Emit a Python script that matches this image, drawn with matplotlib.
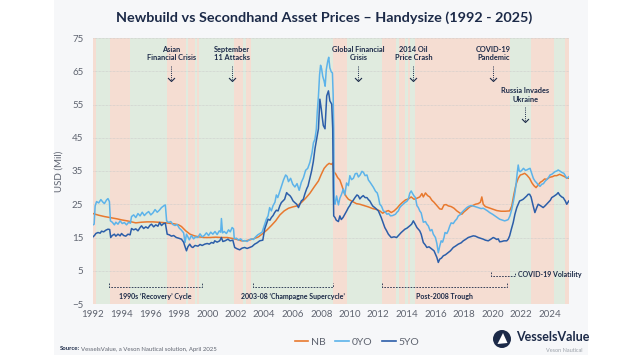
import matplotlib.pyplot as plt
from matplotlib.patches import Rectangle, Ellipse, Polygon
from matplotlib.lines import Line2D

plt.rcParams['font.family'] = ['Lato', 'DejaVu Sans']

NAVY = '#1c2a48'
GRAY = '#5f6470'

# ---- data ----
nb_year = [1992.0, 1992.4, 1992.8, 1993.2, 1993.7, 1994.0, 1994.4, 1994.8, 1995.0, 1995.4,
           1995.8, 1996.2, 1996.6, 1996.9, 1997.3, 1997.7, 1998.0, 1998.2, 1998.5, 1998.8,
           1999.1, 1999.4, 1999.8, 2000.2, 2000.6, 2001.0, 2001.4, 2001.8, 2002.1, 2002.4,
           2002.7, 2003.0, 2003.3, 2003.6, 2003.9, 2004.2, 2004.5, 2004.8, 2005.1, 2005.4,
           2005.7, 2006.0, 2006.3, 2006.6, 2006.9, 2007.2, 2007.5, 2007.8, 2008.0, 2008.2,
           2008.4, 2008.55, 2008.7, 2008.8, 2008.87, 2009.0, 2009.15, 2009.3, 2009.45, 2009.6,
           2009.75, 2009.9, 2010.2, 2010.45, 2010.7, 2011.0, 2011.3, 2011.6, 2011.9, 2012.1,
           2012.3, 2012.5, 2012.7, 2012.9, 2013.1, 2013.3, 2013.5, 2013.7, 2013.9, 2014.1,
           2014.3, 2014.5, 2014.7, 2014.9, 2015.05, 2015.15, 2015.3, 2015.45, 2015.6, 2015.75,
           2015.9, 2016.1, 2016.3, 2016.45, 2016.6, 2016.75, 2016.9, 2017.1, 2017.3, 2017.5,
           2017.7, 2017.85, 2018.0, 2018.2, 2018.4, 2018.6, 2018.8, 2019.0, 2019.15, 2019.25,
           2019.35, 2019.5, 2019.7, 2019.9, 2020.1, 2020.3, 2020.6, 2020.9, 2021.2, 2021.35,
           2021.5, 2021.65, 2021.8, 2021.95, 2022.1, 2022.25, 2022.4, 2022.6, 2022.75, 2022.9,
           2023.05, 2023.2, 2023.35, 2023.5, 2023.65, 2023.8, 2024.0, 2024.2, 2024.35, 2024.5,
           2024.7, 2024.9, 2025.05, 2025.2, 2025.35]
nb_val = [22.2, 21.7, 21.3, 21.0, 20.6, 20.3, 20.0, 19.6, 19.4, 19.6,
          19.7, 19.7, 19.6, 19.5, 19.3, 19.1, 18.8, 18.3, 17.0, 16.0,
          15.5, 15.2, 15.0, 15.0, 15.1, 15.0, 15.0, 14.7, 14.4, 14.0,
          14.0, 14.3, 14.7, 15.2, 16.2, 17.3, 18.6, 20.0, 21.8, 23.0,
          23.8, 24.2, 24.5, 25.5, 26.8, 28.3, 30.2, 32.0, 34.0, 35.8,
          36.8, 37.3, 37.0, 37.4, 34.8, 34.2, 33.0, 32.3, 30.5, 28.5,
          27.3, 26.5, 25.8, 25.2, 25.0, 24.6, 24.2, 23.7, 23.4, 23.0,
          22.3, 22.8, 23.1, 22.5, 23.0, 23.8, 24.8, 25.6, 26.3, 26.6,
          27.2, 26.5, 26.8, 27.2, 28.2, 27.2, 28.4, 27.6, 27.2, 26.2,
          25.6, 24.6, 23.6, 23.5, 24.8, 24.9, 24.5, 24.3, 23.8, 23.0,
          22.4, 22.0, 22.7, 23.4, 24.2, 24.6, 25.0, 25.2, 25.6, 27.2,
          25.0, 24.3, 24.0, 23.7, 23.4, 23.1, 22.9, 22.9, 23.0, 24.5,
          28.0, 31.0, 32.8, 33.8, 34.0, 34.3, 33.8, 32.8, 31.5, 30.6,
          30.0, 30.8, 31.6, 32.0, 32.6, 32.5, 33.1, 33.3, 33.6, 33.6,
          34.0, 33.6, 33.3, 32.9, 32.8]

yo0_year = [1992.0, 1992.08, 1992.15, 1992.25, 1992.4, 1992.55, 1992.7, 1992.8, 1992.95, 1993.05,
            1993.15, 1993.22, 1993.35, 1993.5, 1993.6, 1993.75, 1993.9, 1994.05, 1994.2, 1994.35,
            1994.5, 1994.62, 1994.7, 1994.85, 1995.0, 1995.15, 1995.3, 1995.45, 1995.6, 1995.75,
            1995.9, 1996.05, 1996.2, 1996.35, 1996.5, 1996.65, 1996.8, 1996.95, 1997.07, 1997.16,
            1997.3, 1997.45, 1997.6, 1997.75, 1997.9, 1998.05, 1998.2, 1998.35, 1998.45, 1998.55,
            1998.65, 1998.75, 1998.9, 1999.05, 1999.2, 1999.35, 1999.5, 1999.65, 1999.8, 1999.95,
            2000.1, 2000.25, 2000.4, 2000.55, 2000.7, 2000.85, 2000.95, 2001.0, 2001.08, 2001.2,
            2001.35, 2001.5, 2001.62, 2001.75, 2001.85, 2001.9, 2002.05, 2002.2, 2002.35, 2002.5,
            2002.65, 2002.8, 2002.95, 2003.1, 2003.25, 2003.4, 2003.55, 2003.7, 2003.85, 2004.0,
            2004.15, 2004.27, 2004.38, 2004.5, 2004.62, 2004.75, 2004.85, 2004.95, 2005.1, 2005.25,
            2005.35, 2005.5, 2005.6, 2005.7, 2005.85, 2006.0, 2006.15, 2006.3, 2006.45, 2006.6,
            2006.75, 2006.9, 2007.05, 2007.2, 2007.35, 2007.45, 2007.55, 2007.65, 2007.72, 2007.8,
            2007.88, 2007.95, 2008.02, 2008.1, 2008.2, 2008.27, 2008.35, 2008.45, 2008.52, 2008.6,
            2008.7, 2008.78, 2008.83, 2008.87, 2008.9, 2008.96, 2009.07, 2009.2, 2009.3, 2009.42,
            2009.54, 2009.65, 2009.77, 2009.9, 2010.0, 2010.12, 2010.25, 2010.38, 2010.5, 2010.6,
            2010.72, 2010.85, 2010.95, 2011.07, 2011.2, 2011.3, 2011.42, 2011.53, 2011.65, 2011.8,
            2011.92, 2012.0, 2012.1, 2012.22, 2012.35, 2012.48, 2012.6, 2012.72, 2012.85, 2013.0,
            2013.2, 2013.3, 2013.4, 2013.5, 2013.6, 2013.73, 2013.86, 2014.0, 2014.1, 2014.2,
            2014.3, 2014.4, 2014.5, 2014.6, 2014.7, 2014.8, 2014.9, 2015.0, 2015.15, 2015.3,
            2015.4, 2015.5, 2015.63, 2015.75, 2015.85, 2016.0, 2016.1, 2016.2, 2016.3, 2016.4,
            2016.5, 2016.6, 2016.67, 2016.8, 2016.9, 2017.0, 2017.1, 2017.25, 2017.37, 2017.5,
            2017.6, 2017.72, 2017.84, 2018.0, 2018.2, 2018.35, 2018.5, 2018.7, 2018.85, 2019.0,
            2019.2, 2019.35, 2019.47, 2019.65, 2019.8, 2020.0, 2020.17, 2020.35, 2020.5, 2020.7,
            2020.85, 2021.0, 2021.1, 2021.22, 2021.35, 2021.47, 2021.57, 2021.65, 2021.72, 2021.8,
            2021.87, 2021.94, 2022.05, 2022.17, 2022.3, 2022.4, 2022.52, 2022.63, 2022.75, 2022.86,
            2022.97, 2023.1, 2023.2, 2023.33, 2023.45, 2023.57, 2023.68, 2023.8, 2023.92, 2024.03,
            2024.15, 2024.27, 2024.38, 2024.5, 2024.6, 2024.72, 2024.85, 2025.0, 2025.1, 2025.2,
            2025.35]
yo0_val = [18.8, 19.0, 24.5, 25.8, 25.4, 26.4, 25.6, 25.2, 26.3, 26.7,
           25.8, 20.0, 19.6, 18.8, 19.6, 19.0, 20.0, 19.2, 19.5, 18.8,
           19.6, 19.3, 21.3, 21.8, 21.0, 22.2, 21.5, 22.6, 21.6, 22.3,
           22.8, 21.8, 22.4, 23.4, 22.6, 23.2, 24.0, 24.5, 24.8, 20.0,
           19.5, 19.8, 18.9, 18.6, 18.9, 17.8, 17.2, 16.4, 13.5, 16.0,
           15.2, 14.3, 15.6, 14.6, 15.2, 15.0, 16.1, 15.2, 15.6, 16.4,
           15.6, 16.6, 16.0, 16.8, 15.9, 17.0, 16.6, 20.7, 16.4, 16.8,
           16.2, 17.3, 16.7, 18.0, 17.6, 14.6, 14.8, 14.2, 14.6, 13.9,
           14.1, 13.8, 14.3, 14.6, 14.4, 15.2, 15.8, 16.2, 16.6, 18.6,
           20.5, 21.5, 24.0, 23.0, 24.6, 25.6, 27.8, 27.0, 29.0, 31.0,
           32.3, 33.8, 33.4, 31.8, 32.8, 31.0, 30.2, 31.2, 29.2, 31.6,
           33.0, 35.2, 35.8, 37.6, 40.5, 43.5, 44.5, 47.5, 53.0, 57.5,
           64.0, 66.8, 65.8, 63.5, 62.0, 60.5, 65.5, 68.0, 69.2, 66.0,
           64.8, 64.5, 58.0, 48.0, 26.0, 25.0, 27.5, 24.8, 26.8, 28.0,
           29.6, 27.8, 31.4, 30.6, 33.6, 32.4, 32.8, 34.2, 34.3, 33.2,
           33.8, 34.9, 34.6, 33.6, 33.8, 32.3, 31.6, 30.9, 30.1, 28.9,
           28.4, 27.2, 25.0, 24.4, 23.0, 22.7, 22.0, 22.2, 21.5, 21.6,
           22.0, 22.6, 23.0, 24.0, 24.5, 25.0, 25.5, 25.9, 26.5, 28.3,
           29.0, 28.2, 27.5, 27.0, 24.6, 24.0, 23.0, 22.4, 19.6, 19.8,
           19.0, 18.5, 17.0, 17.4, 16.0, 15.0, 13.2, 10.4, 12.4, 14.0,
           13.6, 15.0, 16.5, 16.2, 17.1, 18.4, 19.4, 19.2, 20.0, 20.6,
           21.5, 21.8, 22.5, 23.2, 24.0, 24.4, 24.6, 24.4, 24.2, 24.0,
           23.7, 23.8, 23.5, 23.0, 22.5, 22.0, 21.5, 21.0, 20.5, 20.2,
           20.0, 20.2, 20.4, 21.5, 23.5, 26.0, 28.5, 31.0, 34.0, 36.8,
           35.0, 34.8, 35.2, 35.8, 35.2, 35.3, 35.6, 35.8, 34.2, 32.8,
           32.0, 31.4, 30.8, 30.4, 31.0, 31.2, 31.9, 32.4, 33.0, 33.8,
           34.0, 34.4, 34.8, 35.0, 35.3, 35.0, 34.6, 34.3, 33.6, 32.8,
           33.3]

yo5_year = [1992.0, 1992.1, 1992.2, 1992.35, 1992.5, 1992.6, 1992.75, 1992.9, 1993.05, 1993.17,
            1993.24, 1993.35, 1993.5, 1993.6, 1993.75, 1993.9, 1994.0, 1994.15, 1994.3, 1994.45,
            1994.6, 1994.7, 1994.85, 1995.0, 1995.15, 1995.3, 1995.4, 1995.55, 1995.7, 1995.85,
            1996.0, 1996.1, 1996.25, 1996.4, 1996.55, 1996.67, 1996.8, 1996.95, 1997.07, 1997.2,
            1997.35, 1997.5, 1997.65, 1997.84, 1998.0, 1998.2, 1998.35, 1998.43, 1998.55, 1998.65,
            1998.78, 1998.9, 1999.0, 1999.15, 1999.36, 1999.5, 1999.65, 1999.83, 2000.0, 2000.15,
            2000.3, 2000.45, 2000.53, 2000.7, 2000.88, 2001.0, 2001.1, 2001.25, 2001.46, 2001.6,
            2001.8, 2001.93, 2002.1, 2002.28, 2002.45, 2002.63, 2002.8, 2002.98, 2003.15, 2003.33,
            2003.5, 2003.68, 2003.9, 2004.03, 2004.15, 2004.27, 2004.4, 2004.5, 2004.62, 2004.73,
            2004.85, 2004.97, 2005.1, 2005.2, 2005.32, 2005.43, 2005.57, 2005.67, 2005.8, 2005.9,
            2006.02, 2006.14, 2006.28, 2006.4, 2006.5, 2006.6, 2006.74, 2006.84, 2006.98, 2007.07,
            2007.2, 2007.32, 2007.44, 2007.56, 2007.68, 2007.8, 2007.9, 2008.0, 2008.07, 2008.14,
            2008.26, 2008.38, 2008.5, 2008.6, 2008.73, 2008.8, 2008.84, 2008.87, 2008.96, 2009.05,
            2009.2, 2009.3, 2009.4, 2009.52, 2009.65, 2009.78, 2009.9, 2010.0, 2010.1, 2010.24,
            2010.36, 2010.5, 2010.6, 2010.7, 2010.82, 2010.94, 2011.07, 2011.2, 2011.3, 2011.4,
            2011.5, 2011.6, 2011.8, 2012.0, 2012.1, 2012.2, 2012.32, 2012.45, 2012.58, 2012.7,
            2012.8, 2012.9, 2013.1, 2013.28, 2013.45, 2013.6, 2013.73, 2013.86, 2014.0, 2014.2,
            2014.33, 2014.45, 2014.58, 2014.7, 2014.8, 2014.9, 2015.0, 2015.15, 2015.28, 2015.4,
            2015.55, 2015.75, 2015.9, 2016.0, 2016.1, 2016.2, 2016.3, 2016.42, 2016.55, 2016.7,
            2016.9, 2017.05, 2017.25, 2017.4, 2017.6, 2017.8, 2017.95, 2018.1, 2018.3, 2018.5,
            2018.65, 2018.8, 2019.0, 2019.15, 2019.35, 2019.5, 2019.7, 2019.85, 2020.05, 2020.15,
            2020.3, 2020.4, 2020.5, 2020.65, 2020.8, 2021.0, 2021.1, 2021.2, 2021.32, 2021.45,
            2021.57, 2021.7, 2021.8, 2021.9, 2022.02, 2022.15, 2022.28, 2022.4, 2022.5, 2022.6,
            2022.7, 2022.85, 2022.97, 2023.1, 2023.2, 2023.35, 2023.55, 2023.7, 2023.9, 2024.05,
            2024.15, 2024.3, 2024.5, 2024.6, 2024.7, 2024.85, 2024.95, 2025.1, 2025.2, 2025.35]
yo5_val = [15.2, 15.6, 16.2, 16.5, 16.3, 16.9, 16.7, 17.2, 17.5, 17.4,
           15.0, 15.6, 16.0, 15.4, 16.0, 15.5, 16.2, 15.6, 15.4, 16.0,
           15.8, 17.7, 17.3, 17.6, 17.0, 18.0, 18.5, 17.7, 18.2, 17.8,
           18.7, 19.0, 18.2, 18.8, 18.4, 19.5, 18.6, 19.2, 19.3, 16.0,
           15.8, 15.4, 15.6, 15.0, 14.8, 14.5, 13.6, 12.5, 11.0, 12.2,
           13.0, 12.2, 12.0, 12.6, 12.4, 12.9, 12.6, 13.0, 13.2, 13.0,
           13.5, 13.3, 14.0, 13.6, 14.0, 15.0, 13.8, 14.0, 14.5, 14.0,
           14.2, 12.0, 11.6, 11.3, 11.8, 12.0, 11.7, 12.0, 12.3, 13.0,
           13.4, 14.0, 14.2, 17.5, 19.0, 20.5, 20.2, 21.0, 21.6, 22.5,
           23.2, 23.0, 24.6, 25.5, 26.0, 26.5, 28.5, 28.0, 27.6, 27.0,
           26.0, 25.5, 25.0, 24.0, 25.0, 26.0, 26.5, 28.0, 29.7, 30.5,
           32.8, 35.0, 37.8, 41.8, 44.7, 47.7, 56.6, 53.6, 51.0, 48.7,
           47.7, 57.6, 59.1, 56.1, 55.1, 47.7, 30.0, 21.5, 21.0, 20.2,
           19.8, 21.5, 20.4, 21.0, 22.0, 23.0, 24.0, 24.6, 25.5, 26.2,
           27.0, 27.8, 27.5, 26.6, 27.2, 27.6, 27.0, 27.0, 26.4, 26.0,
           25.2, 24.5, 23.8, 23.0, 22.0, 21.0, 19.6, 18.0, 17.0, 16.0,
           15.5, 15.0, 15.2, 15.0, 15.8, 16.5, 17.0, 17.5, 17.8, 18.5,
           19.0, 20.0, 19.0, 18.0, 17.5, 17.0, 16.0, 13.5, 12.8, 12.0,
           12.2, 11.5, 11.0, 10.0, 9.0, 7.5, 8.5, 8.8, 9.5, 9.8,
           10.5, 11.0, 12.0, 12.4, 13.0, 13.4, 14.0, 14.4, 15.0, 15.3,
           15.5, 15.4, 15.0, 14.8, 14.5, 14.2, 14.0, 14.4, 15.0, 14.8,
           14.4, 14.6, 13.7, 13.8, 14.0, 14.0, 14.5, 15.5, 17.5, 19.5,
           22.0, 24.0, 25.0, 26.0, 26.2, 26.5, 27.0, 27.5, 28.0, 28.0,
           27.2, 24.5, 22.5, 24.0, 25.0, 24.6, 24.0, 24.6, 25.5, 26.2,
           27.0, 27.4, 28.0, 28.5, 27.8, 27.2, 27.0, 26.0, 25.0, 26.0]

# market phase shading (start, end, phase)
band_start = [1992.0, 1992.2, 1993.17, 1994.62, 1997.18, 1998.5, 1998.65, 1999.12, 1999.3, 1999.45,
              2001.85, 2002.52, 2002.7, 2003.1, 2008.84, 2009.78, 2012.27, 2013.25, 2013.45, 2013.86,
              2014.05, 2014.2, 2014.57, 2021.25, 2022.7, 2024.28, 2025.1]
band_end = band_start[1:] + [2025.4]
band_phase = ['down', 'up', 'down', 'up', 'down', 'up', 'down', 'up', 'down', 'up',
              'down', 'up', 'down', 'up', 'down', 'up', 'down', 'up', 'down', 'up',
              'down', 'up', 'down', 'up', 'down', 'up', 'down']

events = ['Asian\nFinancial Crisis', 'September\n11 Attacks', 'Global Financial\nCrisis',
          '2014 Oil\nPrice Crash', 'COVID-19\nPandemic', 'Russia Invades\nUkraine']
event_year = [1997.5, 2001.75, 2010.6, 2014.45, 2020.05, 2022.3]
event_level = [70.3, 70.3, 70.3, 70.3, 70.3, 57.9]

periods = ["1990s \u2018Recovery\u2019 Cycle", "2003-08 \u2018Champagne Supercycle\u2019",
           'Post-2008 Trough']
period_start = [1993.14, 2003.19, 2012.23]
period_end = [1999.62, 2008.8, 2020.99]

series_colors = {'NB': '#e8792f', '0YO': '#5cb3ea', '5YO': '#2c5ea9'}
phase_colors = {'up': '#e0ebdf', 'down': '#f5ddd2'}

W, H = 643, 361
fig = plt.figure(figsize=(W / 100, H / 100), dpi=100)
fig.patch.set_facecolor('white')
# grey card behind everything
fig.patches.append(Rectangle((54 / W, 1 - 355 / H), (588 - 54) / W, 355 / H,
                             transform=fig.transFigure, facecolor='#f6f7f9',
                             edgecolor='none', zorder=-5))

ax = fig.add_axes([93 / W, 1 - 304 / H, (569 - 93) / W, (304 - 38) / H])
ax.set_facecolor('none')

for s, e, p in zip(band_start, band_end, band_phase):
    ax.axvspan(s, e, color=phase_colors[p], lw=0, zorder=0.1)

ax.plot(nb_year, nb_val, color=series_colors['NB'], lw=1.1, zorder=2, label='NB')
ax.plot(yo0_year, yo0_val, color=series_colors['0YO'], lw=1.1, zorder=2.1, label='0YO')
ax.plot(yo5_year, yo5_val, color=series_colors['5YO'], lw=1.1, zorder=2.2, label='5YO')

ax.set_xlim(1992.0, 2025.36)
ax.set_ylim(-5, 75)
ax.set_yticks(range(-5, 76, 10))
ax.set_xticks(range(1992, 2025, 2))
ax.tick_params(length=0, labelsize=7, colors=GRAY)
ax.tick_params(axis='y', pad=7)
ax.tick_params(axis='x', pad=4)
ax.yaxis.grid(True, color='#c9c9c9', lw=0.5, linestyle=(0, (1, 1)))
for sp in ax.spines.values():
    sp.set_visible(False)
ax.set_ylabel('USD (Mil)', fontsize=7, color=GRAY, labelpad=6)

# event call-outs
for txt, x, y in zip(events, event_year, event_level):
    ax.text(x, y, txt, ha='center', va='center', fontsize=5.3, fontweight='bold',
            color=NAVY, linespacing=1.25, zorder=5)
    ax.plot([x, x], [y - 3.6, y - 8.0], color=NAVY, lw=0.7, linestyle=(0, (1, 1.2)), zorder=5)
    ax.plot(x, y - 8.2, marker=[(-1, 1), (0, 0), (1, 1)], markersize=5,
            markerfacecolor='none', markeredgecolor=NAVY, markeredgewidth=0.8, zorder=5)

# period brackets
for txt, s, e in zip(periods, period_start, period_end):
    ax.plot([s, s, e, e], [1.4, 0, 0, 1.4], color=NAVY, lw=0.6,
            linestyle=(0, (2, 1.5)), zorder=5)
    ax.text((s + e) / 2, -2.6, txt, ha='center', va='center', fontsize=5,
            fontweight='bold', color=NAVY, zorder=5)
ax.plot([2019.89, 2019.89, 2021.57, 2021.57], [4.7, 3.4, 3.4, 4.7], color=NAVY, lw=0.6,
        linestyle=(0, (2, 1.5)), zorder=5)
ax.text(2021.8, 3.8, 'COVID-19 Volatility', ha='left', va='center', fontsize=5,
        fontweight='bold', color=NAVY, zorder=5)

fig.text(324 / W, 1 - 18 / H, 'Newbuild vs Secondhand Asset Prices \u2013 Handysize (1992 - 2025)',
         ha='center', va='center', fontsize=10.4, fontweight='bold', color=NAVY)

handles = [Line2D([], [], color=series_colors[k], lw=1.2) for k in series_colors]
leg = fig.legend(handles, list(series_colors), loc='center', bbox_to_anchor=(357 / W, 1 - 342 / H),
                 ncol=3, frameon=False, fontsize=7.5, handlelength=1.3, columnspacing=0.9,
                 handletextpad=0.3, borderaxespad=0)
for t in leg.get_texts():
    t.set_color(GRAY)

# source line
src = fig.text(60 / W, 1 - 349 / H, 'Source:', ha='left', va='center', fontsize=4.3,
               fontweight='bold', color=NAVY)
fig.canvas.draw()
bb = src.get_window_extent(fig.canvas.get_renderer())
fig.text(bb.x1 / W + 1 / W, 1 - 349 / H, 'VesselsValue, a Veson Nautical solution, April 2025',
         ha='left', va='center', fontsize=4.3, color=GRAY)

# logo
cx, cy, r = 502, 339, 9
fig.patches.append(Ellipse((cx / W, 1 - cy / H), 2 * r / W, 2 * r / H, transform=fig.transFigure,
                           facecolor=NAVY, edgecolor='none', zorder=3))
tri = [(cx - 4.5, cy + 5), (cx + 1, cy - 6), (cx + 5.5, cy + 4)]
fig.patches.append(Polygon([(x / W, 1 - y / H) for x, y in tri], closed=True,
                           transform=fig.transFigure, facecolor='white', edgecolor='none', zorder=4))
fig.text(516 / W, 1 - 337 / H, 'VesselsValue', ha='left', va='center', fontsize=9,
         fontweight='bold', color=NAVY)
fig.text(582 / W, 1 - 350 / H, 'Veson Nautical', ha='right', va='center', fontsize=4,
         color='#9aa0a8')

fig.savefig('out.png', dpi=100)
